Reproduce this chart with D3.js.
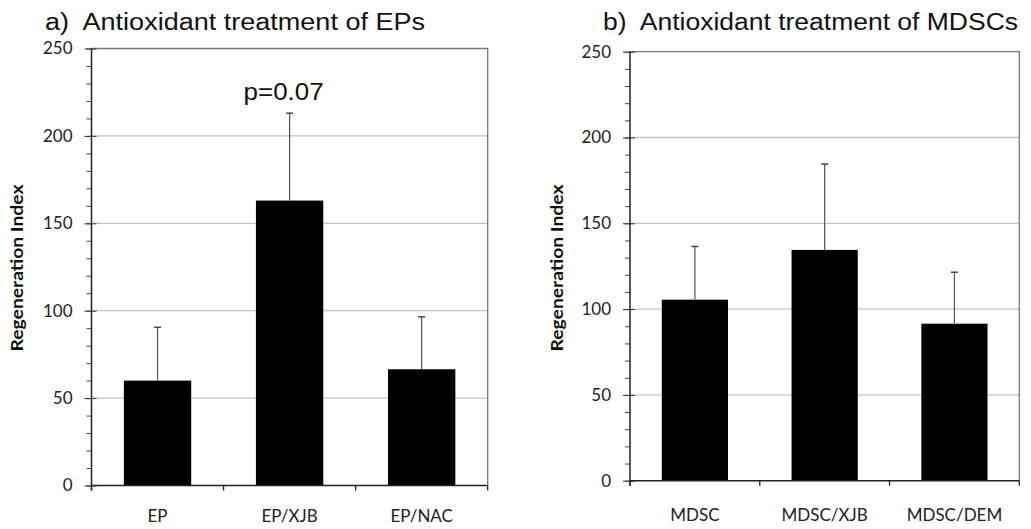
<!doctype html>
<html>
  <head>
    <script src="https://cdnjs.cloudflare.com/ajax/libs/d3/7.8.5/d3.min.js"></script>
  <style>
    body { margin: 0; background: #fff; }
    path.domain { stroke: none; }
    .tick text { font-family: Lato, sans-serif; fill: #222; }
  </style>
  </head>
  <body>
    <svg id="chart" width="1031" height="529"></svg>
    <script>
      // values
      var epCategories = ["EP", "EP/XJB", "EP/NAC"];
      var epMeans = [60, 163, 66.5];
      var epErrors = [30.5, 50, 30];

      var mdscCategories = ["MDSC", "MDSC/XJB", "MDSC/DEM"];
      var mdscMeans = [105.5, 134.5, 91.5];
      var mdscErrors = [31, 50, 30];

      var yTicks = [0, 50, 100, 150, 200, 250];
      var yMinorTicks = d3.range(0, 251, 10);

      var svg = d3.select("#chart");

      drawPanel({
        title: "a)  Antioxidant treatment of EPs", titleX: 45, titleW: 380,
        left: 91.5, right: 487.7, top: 48.5, bottom: 485.5,
        labelX: 17, labelPad: 24,
        cats: epCategories, means: epMeans, errs: epErrors,
        note: "p=0.07", noteIndex: 1
      });

      drawPanel({
        title: "b)  Antioxidant treatment of MDSCs", titleX: 603, titleW: 415,
        left: 630, right: 1019.3, top: 51.7, bottom: 480.7,
        labelX: 557, labelPad: 28,
        cats: mdscCategories, means: mdscMeans, errs: mdscErrors
      });

      function drawPanel(p) {
        var g = svg.append("g");

        var xScale = d3.scaleBand().domain(p.cats).range([p.left, p.right])
          .paddingInner(0.49).paddingOuter(0.245);
        var yScale = d3.scaleLinear().domain([0, 250]).range([p.bottom, p.top]);

        // title (the source image is stretched sideways a little)
        g.append("text")
          .attr("x", p.titleX).attr("y", 30)
          .attr("textLength", p.titleW)
          .attr("lengthAdjust", "spacingAndGlyphs")
          .style("white-space", "pre")
          .style("font-family", "Liberation Sans, Arial, sans-serif")
          .style("font-size", "23px").style("fill", "#111")
          .text(p.title);

        // grid lines
        g.selectAll("line.grid")
          .data(yTicks.slice(1, -1))
          .enter()
          .append("line")
            .attr("class", "grid")
            .attr("x1", p.left).attr("x2", p.right)
            .attr("y1", d => yScale(d)).attr("y2", d => yScale(d))
            .attr("stroke", "#c4c4c4").attr("stroke-width", 1.3);

        // frame top/right
        g.append("path")
          .attr("d", "M" + p.left + "," + p.top + "H" + p.right + "V" + p.bottom)
          .attr("fill", "none").attr("stroke", "#777").attr("stroke-width", 1.3);

        // bars
        g.selectAll("rect.bar")
          .data(p.cats)
          .enter()
          .append("rect")
            .attr("class", "bar")
            .attr("x", d => xScale(d))
            .attr("width", xScale.bandwidth())
            .attr("y", (d, i) => yScale(p.means[i]))
            .attr("height", (d, i) => p.bottom - yScale(p.means[i]))
            .attr("fill", "#000");

        // error bars (upper only)
        var cx = d => xScale(d) + xScale.bandwidth() / 2;
        g.selectAll("line.err")
          .data(p.cats)
          .enter()
          .append("line")
            .attr("class", "err")
            .attr("x1", cx).attr("x2", cx)
            .attr("y1", (d, i) => yScale(p.means[i]))
            .attr("y2", (d, i) => yScale(p.means[i] + p.errs[i]))
            .attr("stroke", "#555").attr("stroke-width", 1.2);
        g.selectAll("line.cap")
          .data(p.cats)
          .enter()
          .append("line")
            .attr("class", "cap")
            .attr("x1", d => cx(d) - 3.5).attr("x2", d => cx(d) + 3.5)
            .attr("y1", (d, i) => yScale(p.means[i] + p.errs[i]))
            .attr("y2", (d, i) => yScale(p.means[i] + p.errs[i]))
            .attr("stroke", "#444").attr("stroke-width", 1.5);

        // y axis: minor ticks
        var minorAxis = d3.axisLeft(yScale)
          .tickValues(yMinorTicks)
          .tickSize(5)
          .tickFormat("");
        g.append("g")
          .attr("transform", "translate(" + p.left + ",0)")
          .call(minorAxis)
          .selectAll("line").attr("stroke", "#444");

        // y axis: major ticks with labels
        var yAxis = d3.axisLeft(yScale)
          .tickValues(yTicks)
          .tickSize(7)
          .tickPadding(12);
        var yG = g.append("g")
          .attr("transform", "translate(" + p.left + ",0)")
          .call(yAxis);
        yG.selectAll("line").attr("stroke", "#333").attr("x2", 5).attr("x1", -7);
        yG.selectAll("text").style("font-size", "17px");

        // y axis line
        g.append("line")
          .attr("x1", p.left).attr("x2", p.left)
          .attr("y1", p.top).attr("y2", p.bottom + 5)
          .attr("stroke", "#222").attr("stroke-width", 1.5);

        // x axis labels
        var xAxis = d3.axisBottom(xScale).tickSize(0).tickPadding(p.labelPad);
        var xG = g.append("g")
          .attr("transform", "translate(0," + p.bottom + ")")
          .call(xAxis);
        xG.selectAll("text").style("font-size", "17px");

        // x axis line and boundary ticks
        g.append("line")
          .attr("x1", p.left).attr("x2", p.right)
          .attr("y1", p.bottom).attr("y2", p.bottom)
          .attr("stroke", "#222").attr("stroke-width", 1.5);
        var step = xScale.step();
        var bounds = p.cats.map((d, i) => p.left + i * step).concat([p.right]);
        g.selectAll("line.xtick")
          .data(bounds)
          .enter()
          .append("line")
            .attr("class", "xtick")
            .attr("x1", d => d).attr("x2", d => d)
            .attr("y1", p.bottom).attr("y2", p.bottom + 5)
            .attr("stroke", "#222").attr("stroke-width", 1.3);

        // y axis title
        g.append("text")
          .attr("transform", "translate(" + (p.labelX + 6) + "," + 268 + ") rotate(-90)")
          .attr("text-anchor", "middle")
          .attr("textLength", 167)
          .attr("lengthAdjust", "spacingAndGlyphs")
          .style("font-family", "Lato, sans-serif")
          .style("font-weight", "bold")
          .style("font-size", "17px").style("fill", "#111")
          .text("Regeneration Index");

        // significance note
        if (p.note) {
          var c = p.cats[p.noteIndex];
          g.append("text")
            .attr("x", cx(c) - 6).attr("y", 100)
            .attr("text-anchor", "middle")
            .attr("textLength", 80)
            .attr("lengthAdjust", "spacingAndGlyphs")
            .style("font-family", "Liberation Sans, Arial, sans-serif")
            .style("font-size", "23px").style("fill", "#111")
            .text(p.note);
        }
      }
    </script>
  </body>
</html>
